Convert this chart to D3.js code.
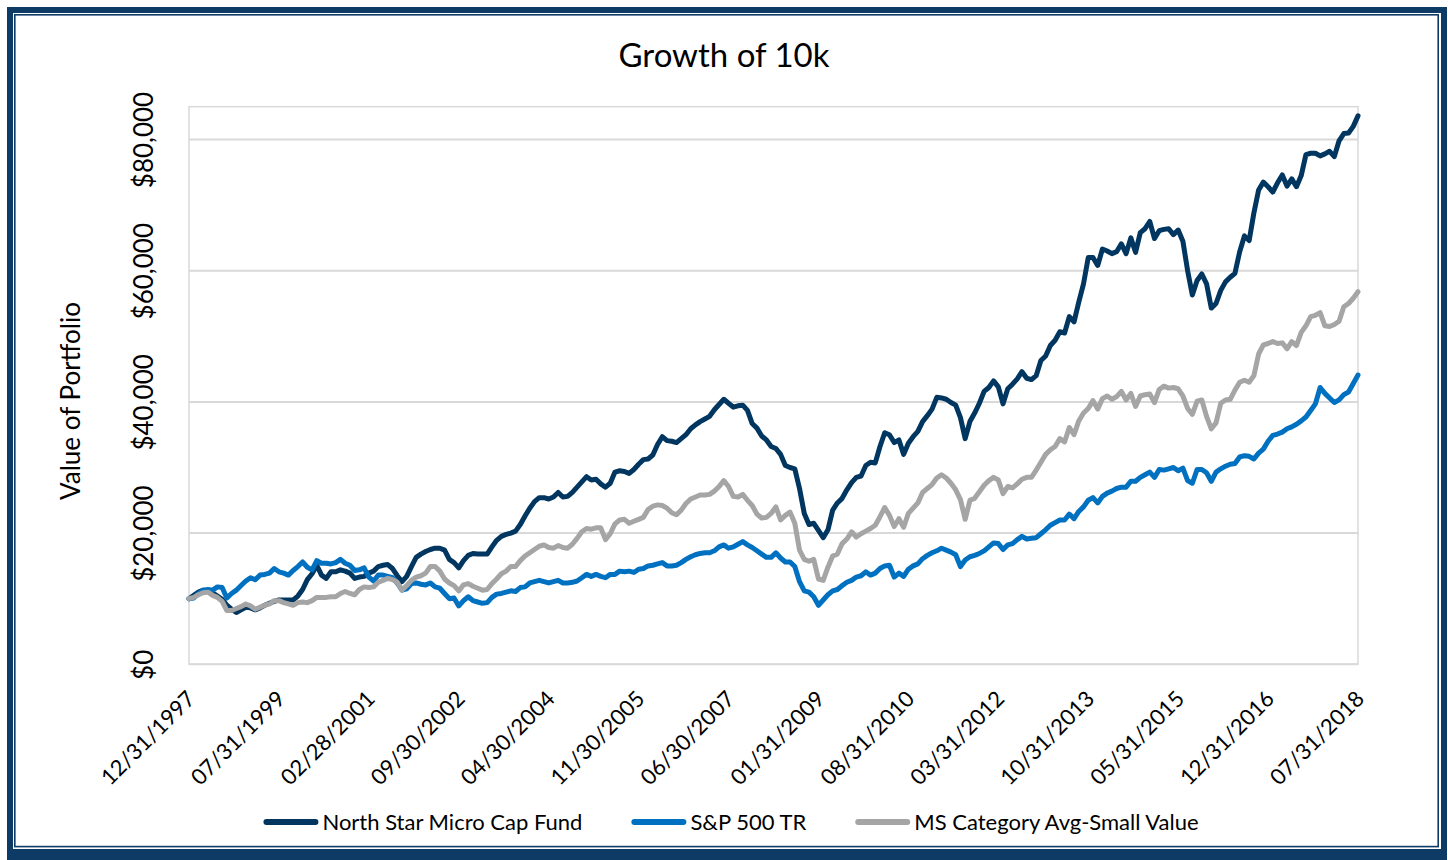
<!DOCTYPE html>
<html>
<head>
<meta charset="utf-8">
<script src="https://cdn.jsdelivr.net/npm/d3@7"></script>
<style>
  body { margin: 0; background: #fff; }
  svg { display: block; font-family: Lato, "Open Sans", sans-serif; }
</style>
</head>
<body>
<div id="chart"></div>
<script>
// growth of 10k, values in $ thousands, one per month-end (12/31/1997 .. 07/31/2018)
var northStar = [10.0,
  10.5, 11.0, 11.3, 11.2, 10.9, 10.4, 9.9, 9.0, 8.4, 7.9, 8.3, 8.7,
  8.6, 8.3, 8.6, 9.0, 9.3, 9.6, 9.8, 9.8, 9.8, 9.8, 10.4, 11.4,
  12.9, 13.8, 15.1, 13.6, 13.1, 14.1, 14.1, 14.4, 14.2, 13.9, 13.1, 13.3,
  13.4, 13.9, 14.2, 14.9, 15.1, 15.2, 14.6, 13.5, 12.6, 13.4, 14.9, 16.3,
  16.8, 17.2, 17.5, 17.7, 17.7, 17.4, 16.0, 15.5, 14.7, 15.8, 16.6, 16.9,
  16.8, 16.8, 16.8, 17.9, 18.9, 19.5, 19.8, 20.0, 20.3, 21.3, 22.6, 23.8,
  24.8, 25.4, 25.4, 25.2, 25.5, 26.2, 25.5, 25.6, 26.2, 27.0, 27.8, 28.6,
  28.1, 28.2, 27.5, 27.0, 27.6, 29.3, 29.5, 29.4, 29.1, 29.7, 30.5, 31.2,
  31.3, 31.9, 33.5, 34.7, 34.1, 34.0, 33.8, 34.4, 35.0, 35.9, 36.5, 37.0,
  37.4, 37.8, 38.8, 39.6, 40.4, 39.8, 39.2, 39.4, 39.5, 38.7, 36.7, 36.0,
  34.8, 34.2, 33.2, 32.9, 32.0, 30.3, 30.0, 29.8, 26.8, 23.0, 21.3, 21.5,
  20.4, 19.3, 20.5, 23.5, 24.6, 25.3, 26.6, 27.7, 28.5, 28.7, 30.3, 30.8,
  30.7, 33.2, 35.3, 35.0, 33.8, 34.2, 32.0, 33.7, 34.7, 35.5, 37.0, 37.9,
  38.9, 40.7, 40.6, 40.4, 39.9, 39.5, 37.6, 34.4, 37.0, 38.3, 39.8, 41.6,
  42.2, 43.2, 42.3, 39.7, 42.0, 42.7, 43.5, 44.6, 43.6, 43.4, 44.0, 46.3,
  47.0, 48.6, 49.4, 50.7, 50.5, 53.0, 52.2, 55.2, 58.0, 62.0, 62.0, 60.8,
  63.3, 63.0, 62.6, 62.9, 64.1, 62.6, 65.0, 62.8, 65.8, 66.4, 67.5, 64.9,
  66.1, 66.3, 66.4, 65.5, 66.2, 64.5, 60.0, 56.3, 58.5, 59.5, 58.0, 54.3,
  55.0, 57.0, 58.3, 59.0, 59.6, 62.9, 65.3, 64.6, 68.8, 72.3, 73.5, 72.8,
  72.0, 73.4, 74.6, 72.9, 74.0, 72.8, 74.5, 77.7, 77.9, 77.9, 77.5, 77.8,
  78.2, 77.4, 79.8, 80.9, 81.0, 82.0, 83.6];

var sp500 = [10.0,
  10.1, 10.8, 11.3, 11.4, 11.3, 11.8, 11.7, 10.1, 10.8, 11.3, 12.0, 12.7,
  13.2, 12.9, 13.6, 13.7, 13.9, 14.6, 14.1, 13.9, 13.6, 14.3, 14.9, 15.6,
  14.8, 14.4, 15.8, 15.4, 15.4, 15.3, 15.5, 16.0, 15.4, 15.1, 14.3, 14.4,
  14.7, 13.3, 12.7, 13.6, 13.6, 13.4, 13.2, 12.4, 11.3, 11.5, 12.3, 12.4,
  12.2, 12.1, 12.4, 11.8, 11.6, 10.8, 10.0, 10.1, 8.9, 9.7, 10.3, 9.7,
  9.5, 9.3, 9.4, 10.2, 10.7, 10.8, 11.0, 11.2, 11.1, 11.7, 11.8, 12.4,
  12.6, 12.8, 12.6, 12.4, 12.6, 12.8, 12.4, 12.4, 12.5, 12.7, 13.2, 13.7,
  13.4, 13.7, 13.4, 13.2, 13.7, 13.7, 14.2, 14.1, 14.2, 14.0, 14.5, 14.6,
  15.0, 15.1, 15.3, 15.5, 15.0, 15.0, 15.1, 15.5, 16.0, 16.4, 16.7, 16.9,
  17.0, 17.0, 17.3, 17.9, 18.2, 17.7, 17.9, 18.3, 18.7, 18.2, 17.8, 17.3,
  16.8, 16.3, 16.3, 17.0, 16.2, 15.6, 15.6, 14.9, 12.6, 11.2, 11.0, 10.3,
  9.0, 9.8, 10.6, 11.2, 11.4, 12.0, 12.5, 12.8, 13.3, 13.5, 14.1, 13.6,
  13.9, 14.6, 15.0, 15.1, 13.3, 13.9, 13.4, 14.5, 15.0, 15.3, 16.1, 16.6,
  17.0, 17.3, 17.7, 17.4, 17.1, 16.7, 14.9, 15.9, 16.4, 16.6, 16.9, 17.3,
  17.9, 18.5, 18.4, 17.5, 18.2, 18.4, 19.0, 19.5, 19.1, 19.2, 19.3, 19.9,
  20.5, 21.2, 21.6, 22.0, 22.0, 22.9, 22.2, 23.3, 24.0, 25.0, 25.4, 24.6,
  25.6, 26.1, 26.4, 26.8, 27.0, 27.0, 27.9, 27.9, 28.5, 28.9, 29.3, 28.5,
  29.7, 29.6, 29.8, 30.0, 29.5, 29.9, 28.0, 27.6, 29.7, 29.7, 29.2, 27.9,
  29.3, 29.8, 30.2, 30.5, 30.6, 31.6, 31.8, 31.7, 31.3, 32.2, 32.8, 34.0,
  34.9, 35.1, 35.4, 35.9, 36.2, 36.6, 37.1, 37.7, 38.7, 39.7, 42.2, 41.3,
  40.6, 39.9, 40.3, 41.1, 41.5, 42.8, 44.1];

var msSmallValue = [10.0,
  10.2, 10.6, 10.9, 11.0, 10.5, 10.2, 9.6, 8.2, 8.2, 8.5, 8.8, 9.2,
  8.9, 8.4, 8.7, 9.0, 9.2, 9.7, 9.7, 9.4, 9.2, 9.0, 9.4, 9.5,
  9.4, 9.7, 10.2, 10.2, 10.2, 10.3, 10.3, 10.8, 11.1, 10.8, 10.6, 11.4,
  11.8, 11.7, 11.8, 12.5, 12.8, 13.1, 12.9, 12.5, 11.3, 12.0, 12.8, 13.3,
  13.5, 13.9, 14.9, 14.9, 14.2, 13.0, 12.4, 12.0, 11.2, 12.1, 12.3, 11.9,
  11.6, 11.3, 11.4, 12.3, 13.0, 13.8, 14.2, 14.9, 14.9, 15.8, 16.5, 17.0,
  17.5, 18.0, 18.2, 17.8, 17.7, 18.1, 17.8, 17.7, 18.3, 19.2, 20.2, 20.7,
  20.6, 20.8, 20.8, 19.0, 19.9, 21.4, 22.0, 22.1, 21.5, 21.8, 22.1, 22.4,
  23.6, 24.1, 24.3, 24.2, 23.8, 23.1, 22.8, 23.5, 24.5, 25.2, 25.5, 25.8,
  25.8, 25.9, 26.4, 27.1, 28.0, 27.1, 25.6, 25.5, 25.9, 25.0, 24.2, 22.9,
  22.3, 22.4, 23.0, 24.0, 22.0, 22.7, 23.2, 21.5, 17.4, 16.0, 15.7, 16.0,
  13.0, 12.8, 14.8, 16.5, 16.8, 18.4, 19.1, 20.2, 19.4, 19.9, 20.3, 20.7,
  21.2, 22.5, 23.9, 22.7, 21.0, 22.2, 20.9, 23.0, 23.8, 24.6, 26.2, 26.8,
  27.4, 28.4, 28.9, 28.4, 27.6, 26.6, 25.1, 22.1, 25.0, 25.3, 26.3, 27.3,
  28.0, 28.5, 28.1, 26.0, 27.1, 26.9, 27.5, 28.2, 28.5, 28.5, 29.6, 30.8,
  32.0, 32.7, 33.2, 34.4, 33.9, 36.1, 35.0, 37.1, 38.3, 39.0, 40.2, 38.9,
  40.5, 40.9, 40.4, 40.8, 41.6, 40.3, 41.3, 39.3, 40.9, 41.1, 41.2, 39.9,
  41.9, 42.4, 42.1, 42.2, 42.0, 40.9, 39.0, 38.1, 40.1, 40.3, 37.8, 35.9,
  36.8, 39.8, 40.3, 40.4, 41.8, 43.0, 43.3, 43.0, 44.0, 47.3, 48.7, 48.9,
  49.2, 48.9, 49.0, 48.1, 49.2, 48.6, 50.6, 51.6, 53.0, 53.2, 53.6, 51.6,
  51.5, 51.8, 52.3, 54.5, 55.0, 55.8, 56.8];

var seriesNames = ["North Star Micro Cap Fund", "S&P 500 TR", "MS Category Avg-Small Value"];
var seriesColors = ["#003660", "#0070C0", "#A5A5A5"];

var xTickLabels = ["12/31/1997", "07/31/1999", "02/28/2001", "09/30/2002", "04/30/2004",
  "11/30/2005", "06/30/2007", "01/31/2009", "08/31/2010", "03/31/2012",
  "10/31/2013", "05/31/2015", "12/31/2016", "07/31/2018"];
var yTicks = [0, 20, 40, 60, 80];
var yTickLabels = ["$0", "$20,000", "$40,000", "$60,000", "$80,000"];

// month-end categories
var fmt = d3.timeFormat("%m/%d/%Y");
var categories = d3.timeMonth.range(new Date(1998, 0, 1), new Date(2018, 8, 1))
  .map(function(d) { return fmt(d3.timeDay.offset(d, -1)); });

var W = 1448, H = 860;
var plot = {left: 189, right: 1358, top: 106.7, bottom: 664.3};

var svg = d3.select("#chart").append("svg")
  .attr("width", W).attr("height", H);

// double frame round the chart
var navy = "#0E3A66";
svg.append("rect").attr("x", 7).attr("y", 7).attr("width", 1440).attr("height", 853).attr("fill", navy);
svg.append("rect").attr("x", 13).attr("y", 13).attr("width", 1428).attr("height", 836).attr("fill", "#fff");
svg.append("rect").attr("x", 14.8).attr("y", 14.8).attr("width", 1423.4).attr("height", 831.8)
  .attr("fill", "#fff").attr("stroke", navy).attr("stroke-width", 1.6);

var x = d3.scalePoint()
  .domain(categories)
  .range([plot.left, plot.right]);

var y = d3.scaleLinear()
  .domain([0, 85])
  .range([plot.bottom, plot.top]);

// plot area outline
svg.append("rect")
  .attr("x", plot.left).attr("y", plot.top)
  .attr("width", plot.right - plot.left).attr("height", plot.bottom - plot.top)
  .attr("fill", "none").attr("stroke", "#D9D9D9").attr("stroke-width", 1.5);

// gridlines
svg.append("g").selectAll("line")
  .data(yTicks.slice(1))
  .enter().append("line")
  .attr("x1", plot.left).attr("x2", plot.right)
  .attr("y1", function(d) { return y(d); })
  .attr("y2", function(d) { return y(d); })
  .attr("stroke", "#D9D9D9").attr("stroke-width", 2);

svg.append("line")
  .attr("x1", plot.left).attr("x2", plot.right)
  .attr("y1", plot.bottom).attr("y2", plot.bottom)
  .attr("stroke", "#D9D9D9").attr("stroke-width", 2);

// y axis
var yAxis = svg.append("g")
  .attr("transform", "translate(" + plot.left + ",0)")
  .call(d3.axisLeft(y).tickValues(yTicks).tickSize(0)
    .tickFormat(function(d, i) { return yTickLabels[i]; }));
yAxis.select(".domain").remove();
yAxis.selectAll("text")
  .attr("x", null).attr("dy", null)
  .attr("transform", "translate(-36,0) rotate(-90)")
  .attr("text-anchor", "middle")
  .attr("fill", "#000")
  .style("font-size", "26px")
  .style("font-family", "Lato, sans-serif");

// x axis
var xAxis = svg.append("g")
  .attr("transform", "translate(0," + plot.bottom + ")")
  .call(d3.axisBottom(x).tickValues(xTickLabels).tickSize(0));
xAxis.select(".domain").remove();
xAxis.selectAll("text")
  .attr("y", null).attr("dy", null)
  .attr("transform", "translate(7,36) rotate(-45)")
  .attr("text-anchor", "end")
  .attr("fill", "#000")
  .style("font-size", "22px")
  .style("font-family", "Lato, sans-serif");

// lines
var line = d3.line()
  .x(function(d, i) { return x(categories[i]); })
  .y(function(d) { return y(d); });

[northStar, sp500, msSmallValue].forEach(function(s, i) {
  svg.append("path")
    .datum(s)
    .attr("fill", "none")
    .attr("stroke", seriesColors[i])
    .attr("stroke-width", 5)
    .attr("stroke-linejoin", "round")
    .attr("stroke-linecap", "round")
    .attr("d", line);
});

// title
svg.append("text")
  .attr("x", 724).attr("y", 67)
  .attr("text-anchor", "middle")
  .style("font-size", "33px")
  .text("Growth of 10k");

// y axis title
svg.append("text")
  .attr("transform", "translate(80,401) rotate(-90)")
  .attr("text-anchor", "middle")
  .style("font-size", "26px")
  .text("Value of Portfolio");

// legend
var legend = svg.append("g");
var lx = 0;
seriesNames.forEach(function(name, i) {
  var g = legend.append("g").attr("transform", "translate(" + lx + ",0)");
  g.append("line")
    .attr("x1", 3).attr("x2", 52)
    .attr("stroke", seriesColors[i]).attr("stroke-width", 6)
    .attr("stroke-linecap", "round");
  var t = g.append("text")
    .attr("x", 59).attr("dy", "0.35em")
    .style("font-size", "22px")
    .text(name);
  lx += 59 + t.node().getComputedTextLength() + 49;
});
lx -= 49;
legend.attr("transform", "translate(" + (731 - lx / 2) + ",822)");
</script>
</body>
</html>
